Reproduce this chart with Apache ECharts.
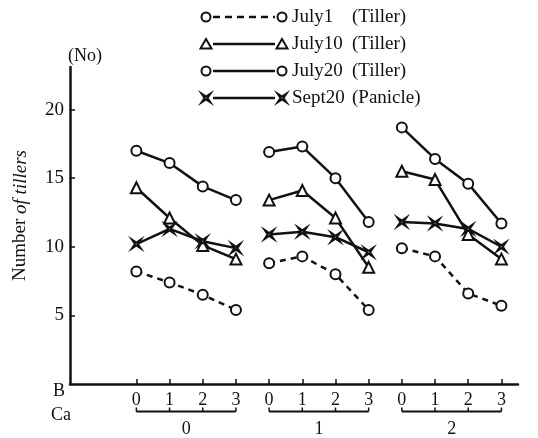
<!DOCTYPE html>
<html>
<head>
<meta charset="utf-8">
<script src="https://cdn.jsdelivr.net/npm/echarts@6/dist/echarts.min.js"></script>
<style>
  html, body { margin: 0; padding: 0; background: #fff; }
  #main { width: 538px; height: 438px; }
</style>
</head>
<body>
<div id="main"></div>
<script type="text/javascript">
    // groups of B, each with Ca = 0..3
    var bGroups = ['0', '1', '2'];
    var caLevels = ['0', '1', '2', '3'];
    var yTicks = [5, 10, 15, 20];

    // number of tillers, read per B group (Ca 0..3)
    var july1 = [8.2, 7.4, 6.5, 5.4, 8.8, 9.3, 8.0, 5.4, 9.9, 9.3, 6.6, 5.7];
    var july10 = [14.3, 12.1, 10.1, 9.1, 13.4, 14.1, 12.1, 8.5, 15.5, 14.9, 10.9, 9.1];
    var july20 = [17.0, 16.1, 14.4, 13.4, 16.9, 17.3, 15.0, 11.8, 18.7, 16.4, 14.6, 11.7];
    var sept20 = [10.2, 11.3, 10.4, 9.9, 10.9, 11.1, 10.7, 9.6, 11.8, 11.7, 11.3, 10.0];

    var FONT = '"Liberation Serif", "DejaVu Serif", serif';
    var INK = '#111';
    var starPath = 'path://M0,0 L5,3.4 L10,0 L6.6,5 L10,10 L5,6.6 L0,10 L3.4,5 Z';

    var xPositions = [];
    for (var i = 0; i < bGroups.length * caLevels.length; i++) xPositions.push(i);

    // split values into one broken line per B group
    function toData(vals) {
        var out = [];
        for (var g = 0; g < bGroups.length; g++) {
            for (var c = 0; c < caLevels.length; c++) {
                var k = g * caLevels.length + c;
                out.push([k, vals[k]]);
            }
            if (g < bGroups.length - 1) out.push([g * caLevels.length + 3.5, null]);
        }
        return out;
    }

    function makeSeries(name, vals, symbol, dashed) {
        return {
            name: name,
            type: 'line',
            data: toData(vals),
            connectNulls: false,
            symbol: symbol,
            symbolSize: symbol === 'triangle' ? 11 : (symbol === 'circle' ? 10 : 9),
            lineStyle: { color: INK, width: 2.5, type: dashed ? [6, 5] : 'solid' },
            itemStyle: { color: '#fff', borderColor: INK, borderWidth: 2 },
            emphasis: { disabled: true },
            z: 3
        };
    }

    // legend drawn by hand: marker - line - marker, name, kind
    var legendRows = [
        { name: 'July1', kind: '(Tiller)', shape: 'circle', dashed: true },
        { name: 'July10', kind: '(Tiller)', shape: 'triangle', dashed: false },
        { name: 'July20', kind: '(Tiller)', shape: 'circle', dashed: false },
        { name: 'Sept20', kind: '(Panicle)', shape: 'star', dashed: false }
    ];

    function legendMarker(shape, cx, cy) {
        var st = { fill: '#fff', stroke: INK, lineWidth: 2 };
        if (shape === 'circle') return { type: 'circle', shape: { cx: cx, cy: cy, r: 4.5 }, style: st };
        if (shape === 'triangle') return { type: 'polygon', shape: { points: [[cx, cy - 5], [cx + 5.5, cy + 4.5], [cx - 5.5, cy + 4.5]] }, style: st };
        return { type: 'polygon', shape: { points: [[cx - 4.5, cy - 4.5], [cx, cy - 1.5], [cx + 4.5, cy - 4.5], [cx + 1.5, cy], [cx + 4.5, cy + 4.5], [cx, cy + 1.5], [cx - 4.5, cy + 4.5], [cx - 1.5, cy]] }, style: st };
    }

    var legendGraphic = [];
    legendRows.forEach(function (r, i) {
        var y = 17 + i * 27;
        legendGraphic.push({ type: 'line', shape: { x1: 213, y1: y, x2: 275, y2: y }, style: { stroke: INK, lineWidth: 2.5, lineDash: r.dashed ? [7, 5] : null } });
        legendGraphic.push(legendMarker(r.shape, 206, y));
        legendGraphic.push(legendMarker(r.shape, 282, y));
        legendGraphic.push({ type: 'text', x: 292, y: y, style: { text: r.name, font: '19px ' + FONT, fill: INK, verticalAlign: 'middle' } });
        legendGraphic.push({ type: 'text', x: 352, y: y, style: { text: r.kind, font: '19px ' + FONT, fill: INK, verticalAlign: 'middle' } });
    });
    legendGraphic.push({ type: 'text', x: 68, y: 56, style: { text: '(No)', font: '18px ' + FONT, fill: INK, verticalAlign: 'middle' } });

    var myChart = echarts.init(document.getElementById('main'));
    var option = {
        backgroundColor: '#fff',
        animation: false,
        grid: { left: 70, right: 20, top: 67, bottom: 54 },
        xAxis: {
            type: 'value',
            min: -2,
            max: 11.5,
            splitLine: { show: false },
            axisLine: { onZero: false, lineStyle: { color: INK, width: 2.5 } },
            axisTick: { inside: true, length: 5, lineStyle: { color: INK, width: 1.5 }, customValues: xPositions },
            axisLabel: {
                customValues: xPositions,
                formatter: function (v) { return caLevels[v % caLevels.length]; },
                color: INK, fontFamily: FONT, fontSize: 18, margin: 7
            }
        },
        yAxis: {
            type: 'value',
            min: 0,
            max: 23.1,
            splitLine: { show: false },
            axisLine: { show: true, onZero: false, lineStyle: { color: INK, width: 2.5 } },
            axisTick: { inside: true, length: 5, lineStyle: { color: INK, width: 1.5 }, customValues: yTicks },
            axisLabel: { customValues: yTicks, color: INK, fontFamily: FONT, fontSize: 19, margin: 6 },
            name: '{n|Number }{i|of tillers}',
            nameLocation: 'middle',
            nameRotate: 90,
            nameGap: 40,
            nameTextStyle: {
                padding: [0, 0, 0, 20],
                rich: {
                    n: { fontFamily: FONT, fontSize: 19, color: INK },
                    i: { fontFamily: FONT, fontSize: 19, fontStyle: 'italic', color: INK }
                }
            }
        },
        series: [
            makeSeries('July1', july1, 'circle', true),
            makeSeries('July10', july10, 'triangle', false),
            makeSeries('July20', july20, 'circle', false),
            makeSeries('Sept20', sept20, starPath, false)
        ],
        graphic: legendGraphic
    };
    myChart.setOption(option);

    // B / Ca annotation below the axis, placed through the axis scale
    var extra = [];
    var yBracket = 411.5;
    for (var g = 0; g < bGroups.length; g++) {
        var xs = [];
        for (var c = 0; c < caLevels.length; c++) {
            xs.push(myChart.convertToPixel({ gridIndex: 0 }, [g * caLevels.length + c, 0])[0]);
        }
        extra.push({ type: 'line', shape: { x1: xs[0], y1: yBracket, x2: xs[3], y2: yBracket }, style: { stroke: INK, lineWidth: 2 } });
        xs.forEach(function (x) {
            extra.push({ type: 'line', shape: { x1: x, y1: yBracket, x2: x, y2: yBracket - 4 }, style: { stroke: INK, lineWidth: 1.5 } });
        });
        extra.push({ type: 'text', x: (xs[0] + xs[3]) / 2, y: 429, style: { text: bGroups[g], font: '18px ' + FONT, fill: INK, align: 'center', verticalAlign: 'middle' } });
    }
    extra.push({ type: 'text', x: 59, y: 391, style: { text: 'B', font: '18px ' + FONT, fill: INK, align: 'center', verticalAlign: 'middle' } });
    extra.push({ type: 'text', x: 61, y: 415, style: { text: 'Ca', font: '18px ' + FONT, fill: INK, align: 'center', verticalAlign: 'middle' } });
    myChart.setOption({ graphic: legendGraphic.concat(extra) });
</script>
</body>
</html>
